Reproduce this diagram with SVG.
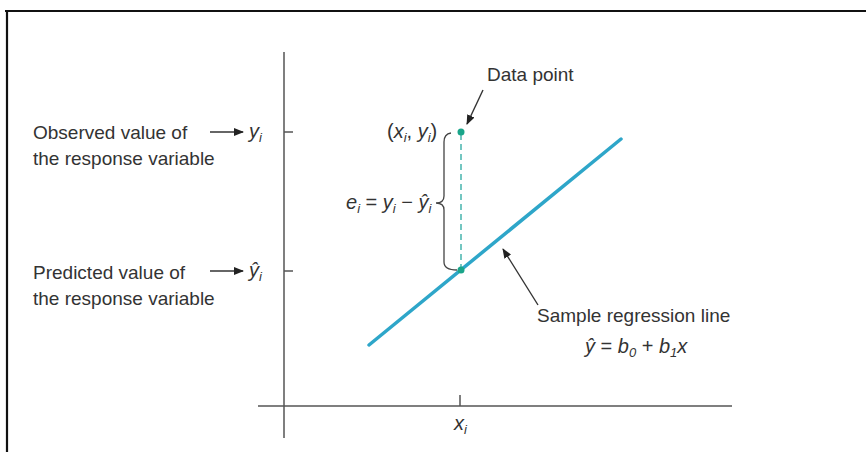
<svg xmlns="http://www.w3.org/2000/svg" width="866" height="452" viewBox="0 0 866 452">
<style>
.t{font-family:"Liberation Sans","Open Sans",sans-serif;font-size:19px;fill:#333}
.v{font-family:"Liberation Sans","Open Sans",sans-serif;font-style:italic;font-size:20px;fill:#333}
.s{font-size:13px}
.ax{stroke:#555;stroke-width:1.5;fill:none}
.ar{stroke:#333;stroke-width:1.4;fill:none;marker-end:url(#ah)}
</style>
<defs>
<marker id="ah" markerWidth="10" markerHeight="8" refX="9" refY="4" orient="auto" markerUnits="userSpaceOnUse">
<path d="M0,0 L10,4 L0,8 z" fill="#222"/>
</marker>
</defs>
<rect width="866" height="452" fill="#fff"/>
<path d="M5,11 H866 M7,11 V452" stroke="#111" stroke-width="2.2" fill="none"/>
<g id="axes">
<path class="ax" d="M284,52 V438 M258,406 H732 M460,395 V406 M284,132 H293 M284,271 H293"/>
</g>
<g id="regression-line">
<line x1="369" y1="345" x2="621" y2="139" stroke="#2ea6c9" stroke-width="3.5" stroke-linecap="round"/>
</g>
<g id="residual">
<line x1="461" y1="134" x2="461" y2="268" stroke="#2aa8a0" stroke-width="1.3" stroke-dasharray="6,4"/>
<path d="M451,133 Q444,134 444,142 V196 Q444,203 436,203 Q444,203 444,210 V262 Q444,270 457,270" stroke="#444" stroke-width="1.3" fill="none"/>
<text class="v" x="346" y="209">e<tspan class="s" dy="4">i</tspan><tspan dy="-4" font-style="normal"> = </tspan>y<tspan class="s" dy="4">i</tspan><tspan dy="-4" font-style="normal"> − </tspan>ŷ<tspan class="s" dy="4">i</tspan></text>
</g>
<g id="data-point">
<circle cx="461" cy="132" r="3.5" fill="#1aa58a"/>
<text class="v" x="387" y="138"><tspan font-style="normal">(</tspan>x<tspan class="s" dy="4">i</tspan><tspan dy="-4" font-style="normal">, </tspan>y<tspan class="s" dy="4">i</tspan><tspan dy="-4" font-style="normal">)</tspan></text>
</g>
<g id="predicted-point">
<circle cx="461" cy="270" r="3.5" fill="#1aa58a"/>
</g>
<g id="label-data-point">
<text class="t" x="487" y="81">Data point</text>
</g>
<g id="label-observed">
<text class="t" x="33" y="139">Observed value of</text>
<text class="t" x="33" y="165">the response variable</text>
<text class="v" x="249" y="138">y<tspan class="s" dy="4">i</tspan></text>
</g>
<g id="label-predicted">
<text class="t" x="33" y="279">Predicted value of</text>
<text class="t" x="33" y="305">the response variable</text>
<text class="v" x="249" y="277">ŷ<tspan class="s" dy="4">i</tspan></text>
</g>
<g id="label-regression">
<text class="t" x="537" y="322">Sample regression line</text>
<text class="v" x="585" y="353">ŷ<tspan font-style="normal"> = </tspan>b<tspan class="s" dy="4">0</tspan><tspan dy="-4" font-style="normal"> + </tspan>b<tspan class="s" dy="4">1</tspan><tspan dy="-4">x</tspan></text>
</g>
<g id="label-xi">
<text class="v" x="454" y="430">x<tspan class="s" dy="4">i</tspan></text>
</g>
<g id="connectors">
<line class="ar" x1="210" y1="132" x2="243" y2="132"/>
<line class="ar" x1="210" y1="271" x2="243" y2="271"/>
<line class="ar" x1="483" y1="90" x2="467" y2="124"/>
<line class="ar" x1="538" y1="305" x2="503" y2="249"/>
</g>
</svg>
